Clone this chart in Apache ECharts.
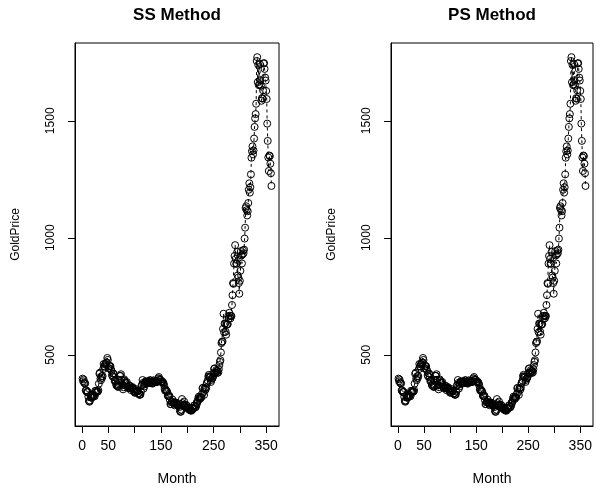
<!DOCTYPE html>
<html>
<head>
<meta charset="utf-8">
<title>GoldPrice - SS and PS Method</title>
<script src="https://cdn.jsdelivr.net/npm/echarts@6.0.0/dist/echarts.min.js"></script>
<style>
  html, body { margin: 0; padding: 0; background: #fff; }
  #main { width: 596px; height: 491px; }
</style>
</head>
<body>
<div id="main"></div>
<script>
// monthly gold price, one row per year (month 1 .. 360)
var goldPrice = [
  398.0, 386.8, 394.3, 381.3, 377.4, 377.7, 347.7, 347.7, 341.1, 340.2, 341.2, 320.2,
  302.8, 299.1, 304.0, 324.9, 316.6, 316.8, 317.4, 329.6, 323.7, 325.7, 325.3, 322.4,
  345.7, 339.1, 345.8, 340.4, 342.6, 342.9, 348.2, 376.6, 418.6, 423.5, 397.8, 391.3,
  408.5, 401.1, 408.9, 438.4, 460.3, 449.6, 450.5, 460.5, 460.0, 465.4, 467.6, 486.3,
  477.8, 442.1, 443.6, 451.7, 451.6, 451.5, 437.5, 431.4, 413.1, 406.9, 420.2, 419.0,
  404.2, 387.9, 390.2, 384.3, 371.0, 367.6, 375.0, 365.4, 361.8, 366.9, 392.4, 409.2,
  410.1, 416.8, 393.1, 374.3, 369.3, 352.3, 361.2, 395.0, 389.3, 380.7, 381.0, 378.2,
  383.6, 363.8, 363.3, 358.4, 356.8, 366.7, 367.7, 356.5, 348.8, 358.7, 359.9, 361.7,
  354.5, 353.9, 344.3, 338.6, 337.2, 340.8, 352.8, 342.9, 345.4, 344.4, 335.0, 334.8,
  329.0, 329.3, 330.1, 342.2, 367.2, 371.9, 392.0, 379.8, 355.5, 364.2, 373.8, 383.3,
  386.9, 381.9, 384.0, 377.3, 381.4, 385.6, 385.5, 380.4, 391.6, 389.8, 384.4, 379.3,
  378.6, 376.5, 382.1, 391.0, 385.2, 387.6, 386.2, 383.8, 383.1, 383.1, 386.0, 387.2,
  399.5, 404.8, 396.2, 392.9, 391.9, 385.3, 383.5, 387.5, 383.1, 381.1, 377.9, 369.2,
  354.1, 346.6, 351.8, 344.5, 343.8, 340.8, 324.1, 324.0, 322.8, 324.9, 306.0, 289.0,
  289.1, 297.5, 295.9, 308.4, 299.1, 292.3, 292.9, 284.1, 289.0, 296.1, 294.1, 291.6,
  287.1, 287.3, 285.7, 282.6, 276.4, 261.3, 256.1, 256.7, 265.0, 310.7, 293.2, 283.1,
  284.6, 300.0, 286.4, 280.0, 275.3, 285.7, 281.6, 274.5, 273.7, 270.0, 266.0, 271.5,
  265.5, 261.9, 263.0, 260.5, 272.4, 270.2, 267.5, 272.4, 283.4, 283.1, 276.2, 275.9,
  281.7, 295.5, 294.0, 302.7, 314.5, 321.2, 313.3, 310.3, 319.2, 316.6, 319.1, 332.1,
  356.9, 359.0, 340.6, 328.2, 355.7, 356.4, 351.0, 359.8, 378.9, 378.9, 389.9, 407.6,
  414.0, 405.3, 406.7, 403.0, 383.8, 392.4, 398.1, 400.5, 405.3, 420.5, 439.4, 442.1,
  424.0, 423.4, 434.2, 429.2, 421.9, 430.7, 424.5, 437.9, 456.0, 469.9, 476.7, 509.8,
  549.9, 555.0, 557.1, 610.6, 675.4, 596.2, 633.7, 632.6, 598.2, 585.8, 627.8, 629.8,
  631.2, 664.8, 654.9, 679.4, 666.9, 655.5, 665.3, 665.4, 712.7, 754.6, 806.3, 803.2,
  889.6, 922.3, 968.4, 909.7, 888.7, 889.5, 939.8, 839.0, 829.9, 806.6, 760.9, 816.1,
  858.7, 943.2, 924.3, 890.2, 928.7, 945.7, 934.2, 949.4, 996.6, 1043.2, 1127.0, 1134.7,
  1118.0, 1095.4, 1113.3, 1148.7, 1205.4, 1232.9, 1192.9, 1215.8, 1271.0, 1342.0, 1369.9, 1390.6,
  1356.4, 1372.7, 1424.0, 1473.8, 1510.4, 1528.7, 1572.8, 1755.8, 1771.9, 1665.2, 1739.0, 1652.3,
  1656.1, 1742.6, 1673.8, 1650.1, 1585.5, 1596.7, 1594.3, 1630.3, 1744.8, 1746.6, 1721.6, 1684.8,
  1671.9, 1627.6, 1593.1, 1487.9, 1414.0, 1343.4, 1285.5, 1351.7, 1348.6, 1316.6, 1275.8, 1221.5
];
var xTicks = [0, 50, 100, 150, 200, 250, 300, 350];
var xTickLabels = [0, 50, 150, 250, 350];
var yTicks = [500, 1000, 1500];
var panelTitles = ['SS Method', 'PS Method'];

var FONT = 'Liberation Sans, Arial, sans-serif';
var months = goldPrice.map(function (v, i) { return i + 1; });
var points = months.map(function (m, i) { return [m, goldPrice[i]]; });

// plot boxes (px)
var boxes = [
  { left: 75, width: 204 },
  { left: 391, width: 202 }
];

var myChart = echarts.init(document.getElementById('main'));

var grids = [], xAxes = [], yAxes = [], series = [], texts = [];
boxes.forEach(function (b, i) {
  grids.push({
    left: b.left, top: 43, width: b.width, height: 384,
    show: true, borderColor: '#000', borderWidth: 1, backgroundColor: 'transparent'
  });
  xAxes.push({
    type: 'value', gridIndex: i, min: -13.4, max: 374.4,
    name: 'Month', nameLocation: 'middle', nameGap: 46,
    nameTextStyle: { fontFamily: FONT, fontSize: 14, color: '#000' },
    axisLine: { show: true, onZero: false, lineStyle: { color: '#000', width: 1 } },
    axisTick: { show: true, length: 7, customValues: xTicks, lineStyle: { color: '#000' } },
    axisLabel: { customValues: xTickLabels, fontFamily: FONT, fontSize: 14, color: '#000', margin: 13 },
    splitLine: { show: false }
  });
  yAxes.push({
    type: 'value', gridIndex: i, min: 195.5, max: 1832.5,
    name: 'GoldPrice', nameLocation: 'middle', nameGap: 53,
    nameTextStyle: { fontFamily: FONT, fontSize: 12, color: '#000' },
    axisLine: { show: true, onZero: false, lineStyle: { color: '#000', width: 1 } },
    axisTick: { show: true, length: 7, customValues: yTicks, lineStyle: { color: '#000' } },
    axisLabel: {
      customValues: yTicks, rotate: 90, fontFamily: FONT, fontSize: 12, color: '#000', margin: 18,
      formatter: function (v) { return String(v); }
    },
    splitLine: { show: false }
  });
  series.push({
    type: 'line', xAxisIndex: i, yAxisIndex: i,
    data: points,
    symbol: 'circle', symbolSize: 7, showSymbol: true, showAllSymbol: true,
    itemStyle: { color: 'rgba(0,0,0,0)', borderColor: '#000', borderWidth: 1 },
    lineStyle: { color: '#000', width: 1, type: [3, 3] },
    emphasis: { disabled: true },
    silent: true
  });
  texts.push({
    type: 'text', x: b.left + b.width / 2, y: 15,
    style: { text: panelTitles[i], font: 'bold 17px ' + FONT, fill: '#000', textAlign: 'center', textVerticalAlign: 'middle' }
  });
});

myChart.setOption({
  animation: false,
  backgroundColor: '#fff',
  grid: grids,
  xAxis: xAxes,
  yAxis: yAxes,
  series: series,
  graphic: texts
});
</script>
</body>
</html>
